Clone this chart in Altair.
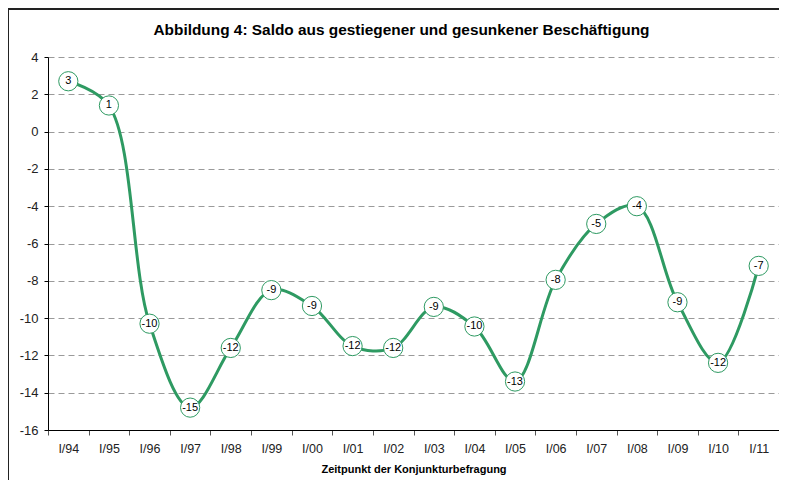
import altair as alt
import pandas as pd

quarters = ["I/94", "I/95", "I/96", "I/97", "I/98", "I/99", "I/00", "I/01", "I/02",
            "I/03", "I/04", "I/05", "I/06", "I/07", "I/08", "I/09", "I/10", "I/11"]
saldo = [2.7, 1.4, -10.3, -14.8, -11.6, -8.5, -9.35, -11.5, -11.6,
         -9.4, -10.45, -13.4, -7.95, -4.95, -4.0, -9.15, -12.4, -7.2]
y_ticks = [4, 2, 0, -2, -4, -6, -8, -10, -12, -14, -16]

df = pd.DataFrame({"Quartal": quarters, "Saldo": saldo})

GREEN = "#2e9a62"
FONT = "Liberation Sans"

x_enc = alt.X("Quartal:N", sort=quarters,
              scale=alt.Scale(paddingInner=0, paddingOuter=0),
              axis=alt.Axis(title="Zeitpunkt der Konjunkturbefragung", labelAngle=0,
                            tickBand="extent", tickSize=5, tickColor="#555",
                            domainColor="black", labelFontSize=12.5, labelColor="#222",
                            labelPadding=7, titleFontSize=11, titleFontWeight="bold",
                            titlePadding=9, titleColor="black", grid=False))
y_enc = alt.Y("Saldo:Q",
              scale=alt.Scale(domain=[-16, 4], nice=False, zero=False),
              axis=alt.Axis(title=None, values=y_ticks, tickSize=4, tickColor="black",
                            domainColor="black", labelFontSize=13, labelColor="#222",
                            labelPadding=6, grid=True, gridColor="#9a9a9a",
                            gridDash=[6, 4], gridWidth=1))

base = alt.Chart(df)

line = base.mark_line(interpolate="catmull-rom", color=GREEN, strokeWidth=3).encode(
    x=x_enc, y=y_enc)
points = base.mark_point(shape="circle", size=370, filled=True, fill="white",
                         stroke=GREEN, strokeWidth=1, opacity=1).encode(x=x_enc, y=y_enc)
texts = base.mark_text(fontSize=11, font=FONT, color="black").encode(
    x=x_enc, y=y_enc, text=alt.Text("Saldo:Q", format=".0f"))

frame_left = alt.Chart(df).mark_rule(color="#222", strokeWidth=2).encode(
    x=alt.value(-40), y=alt.value(-48), y2=alt.value(440))
frame_top = alt.Chart(df).mark_rule(color="#222", strokeWidth=2).encode(
    x=alt.value(-40), x2=alt.value(731), y=alt.value(-48))

chart = alt.layer(frame_left, frame_top, line, points, texts).properties(
    width=731, height=373,
    title=alt.TitleParams("Abbildung 4: Saldo aus gestiegener und gesunkener Beschäftigung",
                          fontSize=15.4, fontWeight="bold", font=FONT, color="black",
                          anchor="middle", frame="group", offset=0, dy=30, dx=-12),
    autosize=alt.AutoSizeParams(type="none"),
    padding={"left": 40, "top": 49, "right": 0, "bottom": 50},
).configure(
    font=FONT,
    locale={"number": {"decimal": ".", "thousands": ",", "grouping": [3],
                       "currency": ["$", ""], "minus": "-"}},
).configure_view(stroke=None)

chart.save("out.html", embed_options={"renderer": "svg", "actions": False})
